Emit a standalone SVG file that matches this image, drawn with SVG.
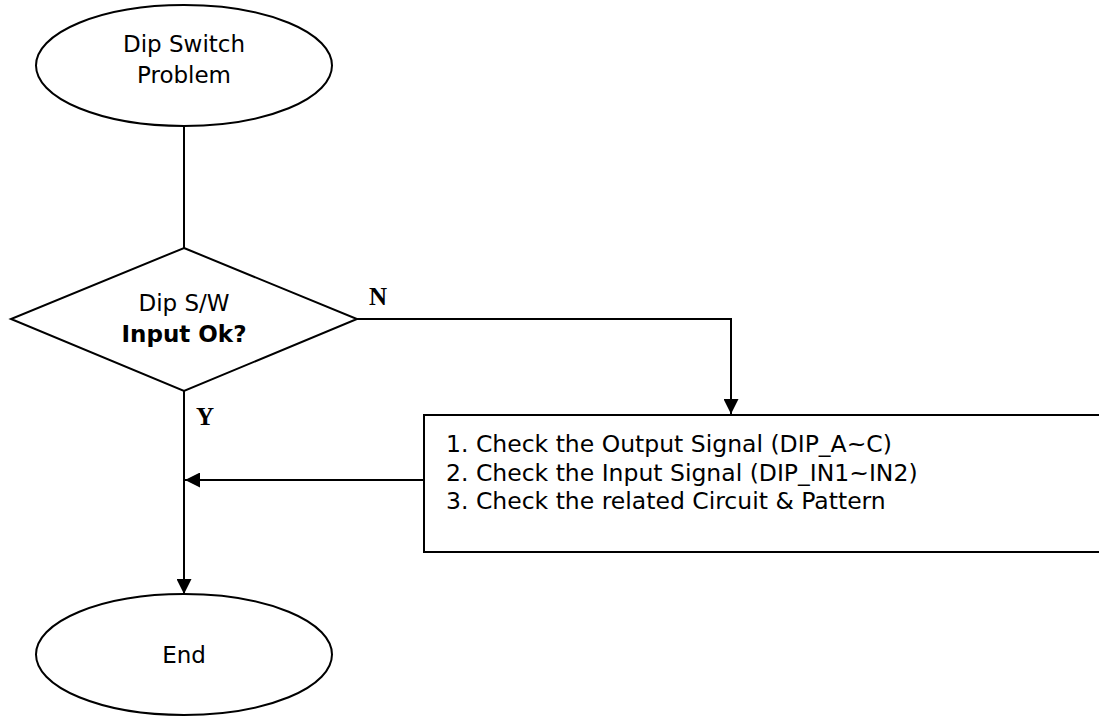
<svg xmlns="http://www.w3.org/2000/svg" width="1099" height="716" viewBox="0 0 1099 716">
<style>
.s{fill:#fff;stroke:#000;stroke-width:2}
.t{font-family:"DejaVu Sans",sans-serif;font-size:23px;fill:#000}
.x{font-size:23.5px}
.b{font-weight:bold}
.l{font-family:"Liberation Serif",serif;font-weight:bold;font-size:25px;fill:#000}
.c{fill:none;stroke:#000;stroke-width:2}
</style>
<defs>
<marker id="ah" viewBox="0 0 10 10" refX="10" refY="5" markerWidth="7.5" markerHeight="7.5" markerUnits="strokeWidth" orient="auto">
<path d="M0,0 L10,5 L0,10 z" fill="#000"/>
</marker>
</defs>
<rect width="1099" height="716" fill="#fff"/>
<g id="connectors">
<line class="c" x1="184" y1="126" x2="184" y2="248"/>
<polyline class="c" points="357,319 731,319 731,414" marker-end="url(#ah)"/>
<line class="c" x1="184" y1="391" x2="184" y2="594" marker-end="url(#ah)"/>
<line class="c" x1="424" y1="480" x2="185" y2="480" marker-end="url(#ah)"/>
<text class="l" x="369" y="305">N</text>
<text class="l" x="196" y="425">Y</text>
</g>
<g id="start">
<ellipse class="s" cx="184" cy="65.5" rx="148" ry="60.5"/>
<text class="t" x="184" y="52" text-anchor="middle">Dip Switch</text>
<text class="t" x="184" y="83" text-anchor="middle">Problem</text>
</g>
<g id="decision">
<polygon class="s" points="184,248 357,319 184,391 11,319"/>
<text class="t" x="184" y="311" text-anchor="middle">Dip S/W</text>
<text class="t b" x="184" y="342" text-anchor="middle">Input Ok?</text>
</g>
<g id="check">
<rect class="s" x="424" y="415" width="690" height="137"/>
<text class="t x" x="446" y="452">1. Check the Output Signal (DIP_A~C)</text>
<text class="t x" x="446" y="481">2. Check the Input Signal (DIP_IN1~IN2)</text>
<text class="t x" x="446" y="509">3. Check the related Circuit &amp; Pattern</text>
</g>
<g id="end">
<ellipse class="s" cx="184" cy="654.5" rx="148" ry="60.5"/>
<text class="t" x="184" y="663" text-anchor="middle">End</text>
</g>
</svg>
